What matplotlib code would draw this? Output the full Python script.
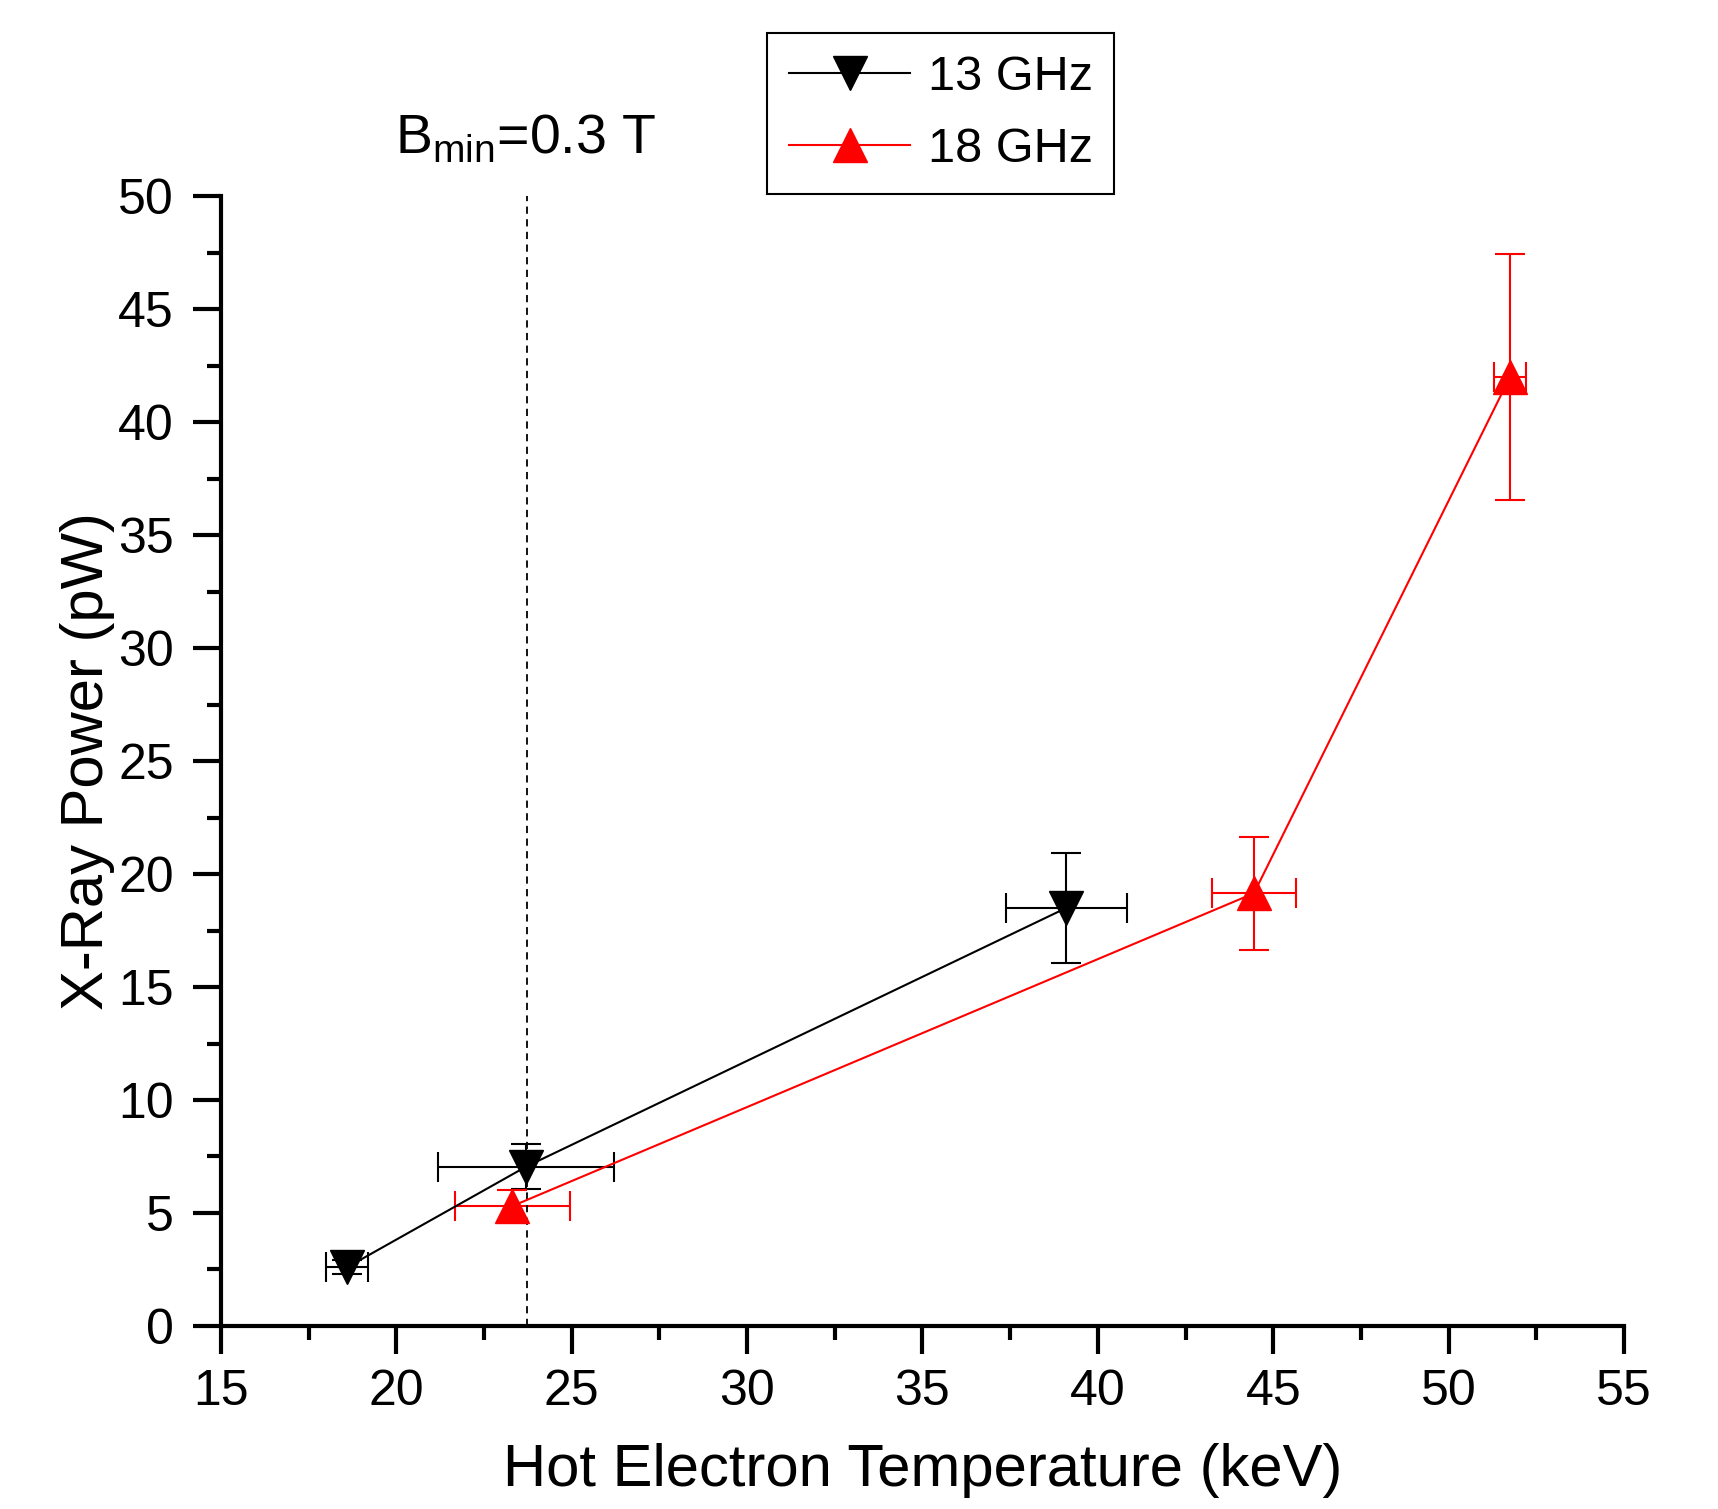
import matplotlib.pyplot as plt
from matplotlib.lines import Line2D
from matplotlib.ticker import MultipleLocator

plt.rcParams['font.family'] = ['Liberation Sans', 'DejaVu Sans']

# 13 GHz
t13 = [18.6, 23.7, 39.1]
t13_err = [0.6, 2.5, 1.73]
p13 = [2.6, 7.05, 18.5]
p13_err = [0.3, 1.0, 2.45]

# 18 GHz
t18 = [23.3, 44.45, 51.75]
t18_err = [1.64, 1.2, 0.45]
p18 = [5.3, 19.15, 42.0]
p18_err = [0.7, 2.5, 5.45]

bmin_t = 23.72

fig = plt.figure(figsize=(17.18, 15.09), dpi=100)
ax = fig.add_axes([0.1286, 0.1213, 0.8167, 0.7487])

ax.errorbar(t13, p13, xerr=t13_err, yerr=p13_err, color='black', marker='v',
            ms=24, lw=1.5, elinewidth=1.5, capsize=11, capthick=1.5)
ax.errorbar(t18, p18, xerr=t18_err, yerr=p18_err, color='red', marker='^',
            ms=24, lw=1.5, elinewidth=1.5, capsize=11, capthick=1.5)

ax.axvline(bmin_t, color='black', ls=(0, (4, 3)), lw=1.3)

ax.set_xlim(15, 55)
ax.set_ylim(0, 50)
ax.xaxis.set_major_locator(MultipleLocator(5))
ax.xaxis.set_minor_locator(MultipleLocator(2.5))
ax.yaxis.set_major_locator(MultipleLocator(5))
ax.yaxis.set_minor_locator(MultipleLocator(2.5))

for s in ['top', 'right']:
    ax.spines[s].set_visible(False)
for s in ['left', 'bottom']:
    ax.spines[s].set_linewidth(3)

ax.tick_params(which='major', direction='out', length=20, width=3, labelsize=36, pad=14)
ax.tick_params(which='minor', direction='out', length=10, width=3)
ax.tick_params(axis='x', which='major', pad=11)

ax.set_xlabel('Hot Electron Temperature (keV)', fontsize=43, labelpad=20)
ax.set_ylabel('X-Ray Power (pW)', fontsize=43, labelpad=2)

fig.text(0.306, 0.908, r'B$_{\mathregular{min}}$=0.3 T', fontsize=40, ha='center', va='center')

handles = [Line2D([], [], color='black', marker='v', ms=24, lw=1.5),
           Line2D([], [], color='red', marker='^', ms=24, lw=1.5)]
leg = fig.legend(handles, ['13 GHz', '18 GHz'], loc='upper left',
                 bbox_to_anchor=(0.4465, 0.978), fontsize=35,
                 frameon=True, fancybox=False, edgecolor='black', framealpha=1,
                 handlelength=2.5, borderpad=0.45, labelspacing=0.55, handletextpad=0.35,
                 borderaxespad=0)
leg.get_frame().set_linewidth(1.5)

fig.savefig('out.png', dpi=100)
